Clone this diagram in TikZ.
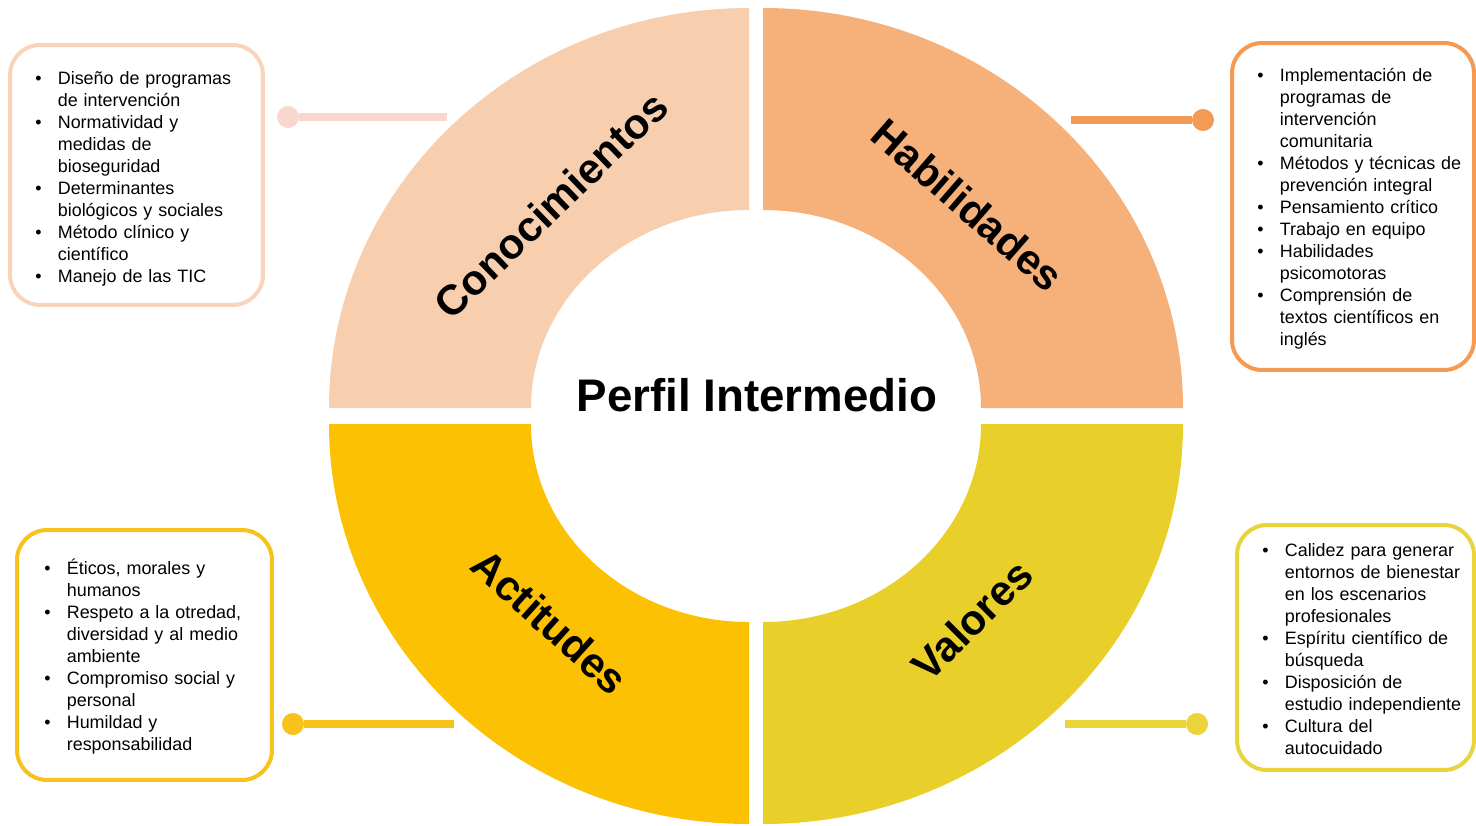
\documentclass[tikz,border=0pt]{standalone}
\usepackage{fontspec}
\setmainfont{Liberation Sans}
\usetikzlibrary{positioning}
\definecolor{conoc}{HTML}{F8CFAE}
\definecolor{habil}{HTML}{F6B07A}
\definecolor{actit}{HTML}{FBC102}
\definecolor{valor}{HTML}{E8CF2A}
\definecolor{conocln}{HTML}{F8D8CE}
\definecolor{conocbd}{HTML}{F9D4BC}
\definecolor{habilbd}{HTML}{F39A55}
\definecolor{actitbd}{HTML}{F7C21A}
\definecolor{valorbd}{HTML}{EBD33A}
% one bullet line with hanging indent
\newcommand{\itm}{\par\noindent\hangindent=0.45cm\hangafter=1\makebox[0.45cm][l]{\textbullet}}

\begin{document}
\begin{tikzpicture}[
  x=0.02cm, y=0.02cm,
  seglbl/.style={font=\bfseries\fontsize{24}{29}\selectfont, inner sep=0pt},
  title/.style={font=\bfseries\fontsize{26}{31}\selectfont, inner sep=0pt},
  infobox/.style={draw=#1, fill=white, line width=0.08cm, rounded corners=0.6cm},
  listtxt/.style={anchor=base west, inner sep=0pt, text width=4.7cm,
    font=\fontsize{10.2}{12.5}\selectfont\raggedright},
  dotnode/.style={circle, fill=#1, inner sep=0pt, minimum size=0.44cm},
  conn/.style={line width=0.16cm},
]
  \useasboundingbox (0,0) rectangle (1476,-825);

  % Four ring segments, slightly pulled apart
  \begin{scope}[shift={(749,-408)}]
    \fill[conoc] (180:420 and 400) arc[start angle=180, end angle=90, x radius=420, y radius=400]
      -- (90:218 and 198) arc[start angle=90, end angle=180, x radius=218, y radius=198] -- cycle;
  \end{scope}
  \begin{scope}[shift={(763,-408)}]
    \fill[habil] (90:420 and 400) arc[start angle=90, end angle=0, x radius=420, y radius=400]
      -- (0:218 and 198) arc[start angle=0, end angle=90, x radius=218, y radius=198] -- cycle;
  \end{scope}
  \begin{scope}[shift={(749,-424)}]
    \fill[actit] (180:420 and 400) arc[start angle=180, end angle=270, x radius=420, y radius=400]
      -- (270:218 and 198) arc[start angle=270, end angle=180, x radius=218, y radius=198] -- cycle;
  \end{scope}
  \begin{scope}[shift={(763,-424)}]
    \fill[valor] (270:420 and 400) arc[start angle=270, end angle=360, x radius=420, y radius=400]
      -- (0:218 and 198) arc[start angle=360, end angle=270, x radius=218, y radius=198] -- cycle;
  \end{scope}

  % Segment labels and centre title
  \node[seglbl, rotate=44]  (lblC) at (551,-205) {Conocimientos};
  \node[seglbl, rotate=-41] (lblH) at (968,-205) {Habilidades};
  \node[seglbl, rotate=-42] (lblA) at (550,-622) {Actitudes};
  \node[seglbl, rotate=45]  (lblV) at (972,-620) {Valores};
  \node[title] (perfil) at (757,-395) {Perfil Intermedio};

  % Connectors: dot at the box side, bar towards the ring
  \node[dotnode=conocln] (dotC) at (288,-117) {};
  \coordinate (endC) at (447,-117);
  \draw[conn, conocln] (dotC) -- (endC);
  \node[dotnode=habilbd] (dotH) at (1203,-120) {};
  \coordinate (endH) at (1071,-120);
  \draw[conn, habilbd] (dotH) -- (endH);
  \node[dotnode=actitbd] (dotA) at (293,-724) {};
  \coordinate (endA) at (454,-724);
  \draw[conn, actitbd] (dotA) -- (endA);
  \node[dotnode=valorbd] (dotV) at (1197,-724) {};
  \coordinate (endV) at (1065,-724);
  \draw[conn, valorbd] (dotV) -- (endV);

  % Boxes with the lists
  \node[infobox=conocbd, minimum width=5.06cm, minimum height=5.2cm] (boxC) at (136.5,-175) {};
  \node[listtxt] (listC) at (35,-63) {%
    \itm Diseño de programas\newline de intervención
    \itm Normatividad y\newline medidas de\newline bioseguridad
    \itm Determinantes\newline biológicos y sociales
    \itm Método clínico y\newline científico
    \itm Manejo de las TIC\par};

  \node[infobox=habilbd, minimum width=4.84cm, minimum height=6.54cm] (boxH) at (1353,-206.5) {};
  \node[listtxt] (listH) at (1257,-60) {%
    \itm Implementación de\newline programas de\newline intervención\newline comunitaria
    \itm Métodos y técnicas de\newline prevención integral
    \itm Pensamiento crítico
    \itm Trabajo en equipo
    \itm Habilidades\newline psicomotoras
    \itm Comprensión de\newline textos científicos en\newline inglés\par};

  \node[infobox=actitbd, minimum width=5.1cm, minimum height=5.0cm] (boxA) at (144.5,-655) {};
  \node[listtxt] (listA) at (44,-553) {%
    \itm Éticos, morales y\newline humanos
    \itm Respeto a la otredad,\newline diversidad y al medio\newline ambiente
    \itm Compromiso social y\newline personal
    \itm Humildad y\newline responsabilidad\par};

  \node[infobox=valorbd, minimum width=4.74cm, minimum height=4.9cm] (boxV) at (1355.5,-647.5) {};
  \node[listtxt] (listV) at (1262,-535) {%
    \itm Calidez para generar\newline entornos de bienestar\newline en los escenarios\newline profesionales
    \itm Espíritu científico de\newline búsqueda
    \itm Disposición de\newline estudio independiente
    \itm Cultura del\newline autocuidado\par};
\end{tikzpicture}
\end{document}
